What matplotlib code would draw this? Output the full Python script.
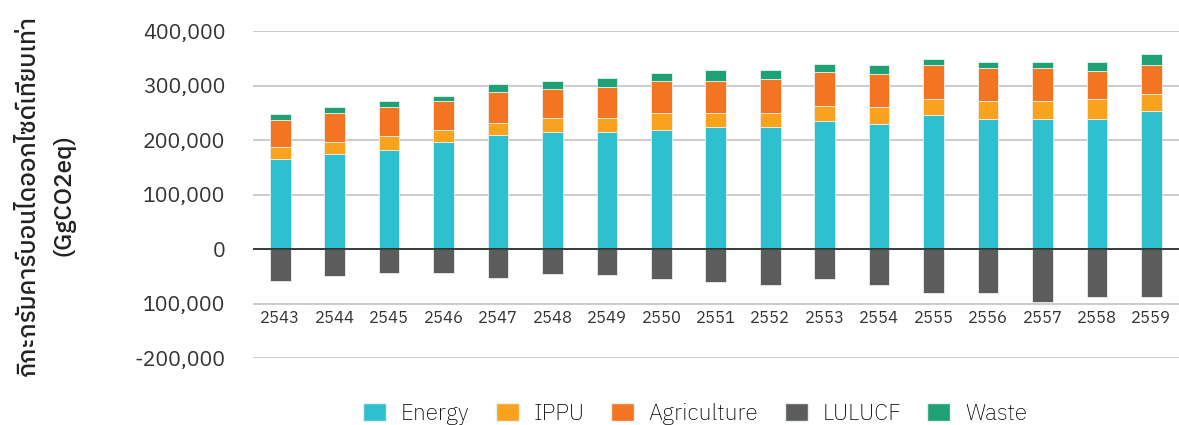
import matplotlib.pyplot as plt
from matplotlib.patches import Patch
from matplotlib.transforms import blended_transform_factory

plt.rcParams['font.family'] = ['IBM Plex Sans Thai', 'Noto Sans Thai', 'DejaVu Sans']

years = ['2543', '2544', '2545', '2546', '2547', '2548', '2549', '2550', '2551',
         '2552', '2553', '2554', '2555', '2556', '2557', '2558', '2559']
energy = [165000, 174000, 181000, 196000, 209000, 214000, 214000, 219000, 224000,
          224000, 235000, 229000, 245000, 239000, 239000, 239000, 253000]
ippu = [23000, 22000, 27000, 22000, 22000, 27000, 27000, 31000, 26000,
        26000, 28000, 31000, 31000, 32000, 32000, 36000, 31000]
agriculture = [48000, 53000, 53000, 53000, 57000, 53000, 57000, 58000, 58000,
               62000, 61000, 62000, 61000, 61000, 61000, 52000, 53000]
waste = [11000, 11000, 10000, 10000, 15000, 15000, 15000, 15000, 20000,
         16000, 16000, 15000, 11000, 11000, 11000, 16000, 20000]
lulucf = [-59000, -50000, -44000, -44000, -53000, -46000, -48000, -55000, -61000,
          -66000, -55000, -66000, -80000, -80000, -98000, -88000, -88000]

y_ticks = [-200000, -100000, 0, 100000, 200000, 300000, 400000]
y_tick_labels = ['-200,000', '100,000', '0', '100,000', '200,000', '300,000', '400,000']

colors = {
    'Energy': '#2ec0ce',
    'IPPU': '#f9a21d',
    'Agriculture': '#f37421',
    'LULUCF': '#5b5c5b',
    'Waste': '#1fa176',
}

fig = plt.figure(figsize=(11.79, 4.25), dpi=100)
ax = fig.add_axes([0.2146, 0.1576, 0.785, 0.7694])

x = list(range(len(years)))
w = 0.38
edge = dict(edgecolor='#e8f0f0', linewidth=0.6)

# positive sectors stacked upward
ax.bar(x, energy, w, color=colors['Energy'], zorder=3, **edge)
base = list(energy)
ax.bar(x, ippu, w, bottom=base, color=colors['IPPU'], zorder=3, **edge)
base = [b + v for b, v in zip(base, ippu)]
ax.bar(x, agriculture, w, bottom=base, color=colors['Agriculture'], zorder=3, **edge)
base = [b + v for b, v in zip(base, agriculture)]
ax.bar(x, waste, w, bottom=base, color=colors['Waste'], zorder=3, **edge)
# LULUCF is a sink, below zero
ax.bar(x, lulucf, w, color=colors['LULUCF'], zorder=3, **edge)

ax.set_xlim(-0.5, len(years) - 0.5)
ax.set_ylim(-200000, 400000)
ax.set_yticks(y_ticks)
ax.set_yticklabels(y_tick_labels)
ax.yaxis.grid(True, color='#c4c4c4', linewidth=1.2, zorder=0)
ax.axhline(0, color='#222222', linewidth=1.2, zorder=4)
for s in ax.spines.values():
    s.set_visible(False)
ax.tick_params(axis='y', length=0, pad=20, labelsize=15.4, labelcolor='#333333')
ax.set_xticks([])

# category labels sit between the -100,000 and -200,000 gridlines
tr = blended_transform_factory(ax.transData, ax.transData)
for xi, yr in zip(x, years):
    ax.text(xi, -127000, yr, transform=tr, ha='center', va='center',
            fontsize=12, color='#333333')

fig.text(0.0394, 0.541, 'กิกะกรัมคาร์บอนไดออกไซด์เทียบเท่า\n(GgCO2eq)',
         rotation=90, ha='center', va='center', multialignment='center',
         fontsize=17.5, color='#222222', linespacing=1.7, weight='medium')

names = ['Energy', 'IPPU', 'Agriculture', 'LULUCF', 'Waste']
handles = [Patch(facecolor=colors[k], edgecolor='#e8f0f0') for k in names]
fig.legend(handles, names,
           loc='center', bbox_to_anchor=(0.5895, 0.026), ncol=5, frameon=False,
           prop={'size': 16.5, 'weight': 'light'},
           handlelength=1.0, handleheight=0.8, columnspacing=1.15,
           handletextpad=0.65, borderaxespad=0, borderpad=0)

fig.savefig('out.png', dpi=100)
